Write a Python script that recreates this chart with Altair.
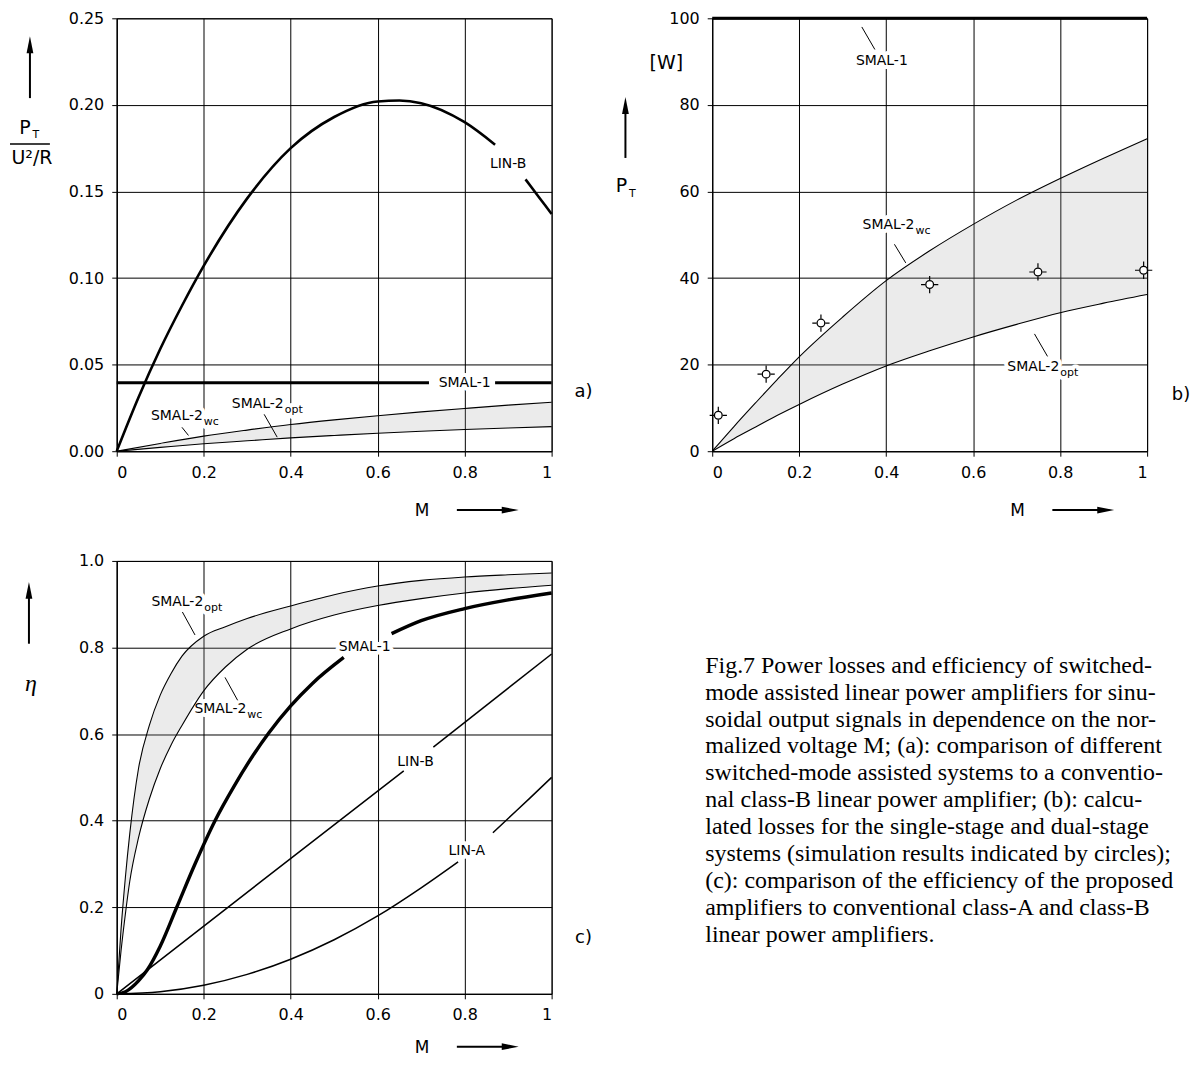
import altair as alt
import pandas as pd

SANS = "DejaVu Sans"
SERIF = "Liberation Serif"
W, H = 436, 434

# ---------------- panel (a): losses normalised to U^2/R ----------------
a_linb_m = [0, 0.05, 0.1, 0.15, 0.2, 0.3, 0.4, 0.5, 0.6, 0.65, 0.7, 0.8, 0.87]
a_linb_v = [0, 0.031, 0.059, 0.084, 0.107, 0.146, 0.175, 0.193, 0.202, 0.2025, 0.201, 0.190, 0.177]
a_linb2_m = [0.94, 0.97, 1.0]
a_linb2_v = [0.157, 0.147, 0.137]
a_smal1_m = [0, 0.718]
a_smal1_v = [0.0396, 0.0396]
a_smal1b_m = [0.87, 1.0]
a_smal1b_v = [0.0396, 0.0396]
a_m = [0, 0.1, 0.2, 0.3, 0.4, 0.5, 0.6, 0.7, 0.8, 0.9, 1.0]
a_wc = [0, 0.0045, 0.0087, 0.0122, 0.0154, 0.0181, 0.0205, 0.0227, 0.0247, 0.0266, 0.0283]
a_opt = [0, 0.0022, 0.0043, 0.0060, 0.0077, 0.0091, 0.0104, 0.0115, 0.0125, 0.0134, 0.0142]

# ---------------- panel (b): losses in W ----------------
b_m = [0, 0.05, 0.1, 0.15, 0.2, 0.3, 0.4, 0.5, 0.6, 0.7, 0.8, 0.9, 1.0]
b_wc = [0, 5.7, 11.2, 16.6, 21.8, 31.0, 39.4, 46.3, 52.4, 58.0, 63.0, 67.7, 72.2]
b_opt = [0, 2.9, 5.6, 8.3, 10.8, 15.5, 19.7, 23.2, 26.4, 29.3, 32.0, 34.2, 36.2]
b_smal1_m = [0, 1.0]
b_smal1_v = [100, 100]
b_sim_m = [0.014, 0.124, 0.25, 0.5, 0.749, 0.992]
b_sim_v = [8.3, 17.8, 29.6, 38.5, 41.4, 41.8]

# ---------------- panel (c): efficiency ----------------
c_m = [0, 0.01, 0.02, 0.03, 0.05, 0.075, 0.1, 0.125, 0.15, 0.2, 0.25, 0.3, 0.4, 0.5, 0.6, 0.7, 0.8, 0.9, 1.0]
c_opt = [0, 0.15, 0.27, 0.37, 0.52, 0.62, 0.69, 0.74, 0.78, 0.826, 0.848, 0.867, 0.896, 0.922, 0.942, 0.955, 0.963, 0.968, 0.972]
c_wc = [0, 0.10, 0.185, 0.26, 0.36, 0.45, 0.52, 0.575, 0.62, 0.70, 0.755, 0.796, 0.843, 0.875, 0.897, 0.913, 0.926, 0.936, 0.944]
c_smal1_m = [0, 0.02, 0.05, 0.07, 0.1, 0.138, 0.18, 0.226, 0.27, 0.313, 0.35, 0.4, 0.45, 0.522]
c_smal1_v = [0, 0.005, 0.03, 0.055, 0.11, 0.2, 0.3, 0.4, 0.48, 0.55, 0.603, 0.665, 0.717, 0.777]
c_smal1b_m = [0.632, 0.7, 0.8, 0.9, 1.0]
c_smal1b_v = [0.832, 0.862, 0.89, 0.91, 0.926]
c_linb_m = [0, 0.33, 0.66]
c_linb_v = [0, 0.258, 0.515]
c_linb2_m = [0.728, 1.0]
c_linb2_v = [0.57, 0.785]
c_lina_m = [0, 0.1, 0.2, 0.3, 0.4, 0.5, 0.6, 0.7, 0.785]
c_lina_v = [0, 0.005, 0.02, 0.045, 0.08, 0.125, 0.18, 0.245, 0.305]
c_lina2_m = [0.865, 0.9, 0.95, 1.0]
c_lina2_v = [0.372, 0.405, 0.452, 0.5]

caption_lines = [
    "Fig.7  Power losses and efficiency of switched-",
    "mode assisted linear power amplifiers for sinu-",
    "soidal output signals in dependence on the nor-",
    "malized voltage M; (a): comparison of different",
    "switched-mode assisted systems to a conventio-",
    "nal class-B linear power amplifier;  (b): calcu-",
    "lated losses for the single-stage and dual-stage",
    "systems (simulation results indicated by circles);",
    "(c): comparison of the efficiency of the proposed",
    "amplifiers to conventional class-A and class-B",
    "linear power amplifiers.",
]

THICK, MID, THIN = 3.0, 1.5, 1.1
UP = "M0,-1L0.4,1L-0.4,1Z"
RIGHT = "M1,0L-1,0.4L-1,-0.4Z"
CROSS = "M-1,0L-0.5,0M0.5,0L1,0M0,-1L0,-0.5M0,0.5L0,1"


def line_rows(name, segs, width):
    rows = []
    for k, (ms, vs) in enumerate(segs):
        for m, v in zip(ms, vs):
            rows.append({"seg": f"{name}-{k}", "M": m, "v": v, "w": width})
    return rows


def x_enc():
    return alt.X("M:Q", title="",
                 scale=alt.Scale(domain=[0, 1], nice=False, zero=False),
                 axis=alt.Axis(values=[0, 0.2, 0.4, 0.6, 0.8, 1], format="~g"))


def make_y(domain, values, fmt=None, expr=None):
    def enc(field):
        ax = dict(values=values)
        if fmt:
            ax["format"] = fmt
        if expr:
            ax["labelExpr"] = expr
        return alt.Y(f"{field}:Q", title="",
                     scale=alt.Scale(domain=domain, nice=False, zero=False),
                     axis=alt.Axis(**ax))
    return enc


def text_layers(df, field, y_enc, **kw):
    out = []
    for halo in (True, False):
        props = dict(font=SANS, baseline="middle", **kw)
        if halo:
            props.update(color="white", stroke="white", strokeWidth=8, strokeJoin="round")
        else:
            props.update(color="black")
        out.append(alt.Chart(df).mark_text(**props).encode(
            x=x_enc(), y=y_enc("v"), text=f"{field}:N"))
    return out


def decor(title_layers, letter, letter_xy, arrow_x, arrow_tip, arrow_bot, m_y):
    base = alt.Chart(pd.DataFrame({"k": [0]}))
    lay = [
        base.mark_rule(color="black", strokeWidth=2).encode(
            x=alt.value(arrow_x), y=alt.value(arrow_tip + 14), y2=alt.value(arrow_bot)),
        base.mark_point(shape=UP, filled=True, color="black", size=289, opacity=1).encode(
            x=alt.value(arrow_x), y=alt.value(arrow_tip + 8.5)),
        base.mark_text(text="M", font=SANS, fontSize=17, align="center", baseline="middle").encode(
            x=alt.value(306), y=alt.value(H + m_y)),
        base.mark_rule(color="black", strokeWidth=2).encode(
            x=alt.value(341), x2=alt.value(391), y=alt.value(H + m_y - 1)),
        base.mark_point(shape=RIGHT, filled=True, color="black", size=289, opacity=1).encode(
            x=alt.value(394.5), y=alt.value(H + m_y - 1)),
        base.mark_text(text=letter, font=SANS, fontSize=18, align="center", baseline="middle").encode(
            x=alt.value(letter_xy[0]), y=alt.value(letter_xy[1])),
    ]
    for t, x, y, size, fnt, style in title_layers:
        lay.append(base.mark_text(text=t, font=fnt, fontSize=size, fontStyle=style,
                                  align="center", baseline="middle").encode(
            x=alt.value(x), y=alt.value(y)))
    return lay


def panel(area, lines, leaders, centers, subs, y_enc, extra, deco):
    layers = []
    adf = pd.DataFrame({"M": area[0], "lo": area[1], "hi": area[2]})
    layers.append(alt.Chart(adf).mark_area(color="#9a9a9a", opacity=0.2, interpolate="monotone").encode(
        x=x_enc(), y=y_enc("lo"), y2="hi:Q"))
    cdf = pd.DataFrame(centers, columns=["text", "M", "v"])
    sdf = pd.DataFrame(subs, columns=["main", "sub", "M", "v"])
    halo_c, txt_c = text_layers(cdf, "text", y_enc, fontSize=14, align="center")
    halo_m, txt_m = text_layers(sdf, "main", y_enc, fontSize=14, align="right")
    halo_s, txt_s = text_layers(sdf, "sub", y_enc, fontSize=11, align="left", dx=1, dy=6)
    layers += [halo_c, halo_m, halo_s]
    ldf = pd.DataFrame(lines)
    layers.append(alt.Chart(ldf).mark_line(color="black", interpolate="monotone", strokeCap="butt").encode(
        x=x_enc(), y=y_enc("v"), detail="seg:N",
        strokeWidth=alt.StrokeWidth("w:Q", scale=None)))
    if leaders:
        rdf = pd.DataFrame(leaders, columns=["M", "v", "M2", "v2"])
        layers.append(alt.Chart(rdf).mark_rule(color="black", strokeWidth=1).encode(
            x=x_enc(), y=y_enc("v"), x2="M2:Q", y2="v2:Q"))
    layers += extra
    layers += [txt_c, txt_m, txt_s]
    layers += deco
    return alt.layer(*layers).properties(width=W, height=H)


# ---------- panel a ----------
ya = make_y([0, 0.25], [0, 0.05, 0.1, 0.15, 0.2, 0.25], fmt=".2f")
lines_a = (line_rows("linb", [(a_linb_m, a_linb_v), (a_linb2_m, a_linb2_v)], 2.6)
           + line_rows("smal1", [(a_smal1_m, a_smal1_v), (a_smal1b_m, a_smal1b_v)], THICK)
           + line_rows("wc", [(a_m, a_wc)], THIN)
           + line_rows("opt", [(a_m, a_opt)], THIN))
deco_a = decor([("P", -92, 110, 19, SANS, "normal"), ("T", -81, 117, 11, SANS, "normal"),
                ("U²/R", -85, 140, 19, SANS, "normal")],
               "a)", (468, 375), -87, 18, 80, 60)
base1 = alt.Chart(pd.DataFrame({"k": [0]}))
frac_bar = base1.mark_rule(color="black", strokeWidth=1.3).encode(
    x=alt.value(-107), x2=alt.value(-67), y=alt.value(126))
panel_a = panel((a_m, a_opt, a_wc), lines_a,
                [(0.15, 0.0138, 0.165, 0.0091), (0.339, 0.0213, 0.369, 0.0081)],
                [("LIN-B", 0.9, 0.166), ("SMAL-1", 0.80, 0.0396)],
                [("SMAL-2", "wc", 0.198, 0.0205), ("SMAL-2", "opt", 0.384, 0.0272)],
                ya, [], deco_a + [frac_bar])

# ---------- panel b ----------
yb = make_y([0, 100], [0, 20, 40, 60, 80, 100], fmt="d")
lines_b = (line_rows("smal1", [(b_smal1_m, b_smal1_v)], THICK)
           + line_rows("wc", [(b_m, b_wc)], THIN)
           + line_rows("opt", [(b_m, b_opt)], THIN))
sim = pd.DataFrame({"M": b_sim_m, "v": b_sim_v})
sim_layers = [
    alt.Chart(sim).mark_point(shape="circle", filled=True, fill="white", stroke="black",
                              strokeWidth=1.3, size=60, opacity=1).encode(x=x_enc(), y=yb("v")),
    alt.Chart(sim).mark_point(shape=CROSS, filled=False, stroke="black", strokeWidth=1.2,
                              size=300, opacity=1).encode(x=x_enc(), y=yb("v")),
]
deco_b = decor([("P", -91, 168, 19, SANS, "normal"), ("T", -80, 176, 11, SANS, "normal"),
                ("[W]", -46, 45, 19, SANS, "normal")],
               "b)", (470, 378), -87, 79, 140, 60)
panel_b = panel((b_m, b_opt, b_wc), lines_b,
                [(0.344, 98, 0.374, 92.8), (0.419, 47.8, 0.445, 43.5), (0.741, 27.1, 0.771, 21.9)],
                [("SMAL-1", 0.39, 90.2)],
                [("SMAL-2", "wc", 0.465, 52.3), ("SMAL-2", "opt", 0.798, 19.5)],
                yb, sim_layers, deco_b)

# ---------- panel c ----------
yc = make_y([0, 1], [0, 0.2, 0.4, 0.6, 0.8, 1.0],
            expr="datum.value == 0 ? '0' : format(datum.value, '.1f')")
lines_c = (line_rows("opt", [(c_m, c_opt)], THIN)
           + line_rows("wc", [(c_m, c_wc)], THIN)
           + line_rows("smal1", [(c_smal1_m, c_smal1_v), (c_smal1b_m, c_smal1b_v)], 3.4)
           + line_rows("linb", [(c_linb_m, c_linb_v), (c_linb2_m, c_linb2_v)], MID)
           + line_rows("lina", [(c_lina_m, c_lina_v), (c_lina2_m, c_lina2_v)], MID))
deco_c = decor([("η", -86, 123, 24, SERIF, "italic")],
               "c)", (468, 378), -88, 21, 83, 54)
panel_c = panel((c_m, c_wc, c_opt), lines_c,
                [(0.151, 0.882, 0.18, 0.829), (0.249, 0.731, 0.278, 0.678)],
                [("SMAL-1", 0.57, 0.80), ("LIN-B", 0.687, 0.535), ("LIN-A", 0.805, 0.331)],
                [("SMAL-2", "opt", 0.199, 0.906), ("SMAL-2", "wc", 0.298, 0.657)],
                yc, [], deco_c)

# ---------- caption ----------
caption = alt.Chart(pd.DataFrame({"caption": ["\n".join(caption_lines)]})).mark_text(
    font=SERIF, fontSize=24, align="left", baseline="alphabetic", lineBreak="\n",
    lineHeight=27, color="black").encode(
    text="caption:N", x=alt.value(-7), y=alt.value(112)).properties(
    width=W, height=H, view=alt.ViewBackground(strokeWidth=0))

chart = alt.concat(panel_a, panel_b, panel_c, caption, columns=2,
                   spacing={"row": 110, "column": 161}, bounds="flush").properties(
    padding={"left": 0, "top": 0, "right": 0, "bottom": 0}
).configure(background="white").configure_view(stroke="black", strokeWidth=1).configure_axis(
    grid=True, gridColor="black", gridWidth=1, gridOpacity=1,
    domainColor="black", domainWidth=1, tickColor="black", tickSize=5,
    labelFont=SANS, labelFontSize=16, labelColor="black", labelPadding=8
)

chart.save("out.html", embed_options={"renderer": "svg", "actions": False})
